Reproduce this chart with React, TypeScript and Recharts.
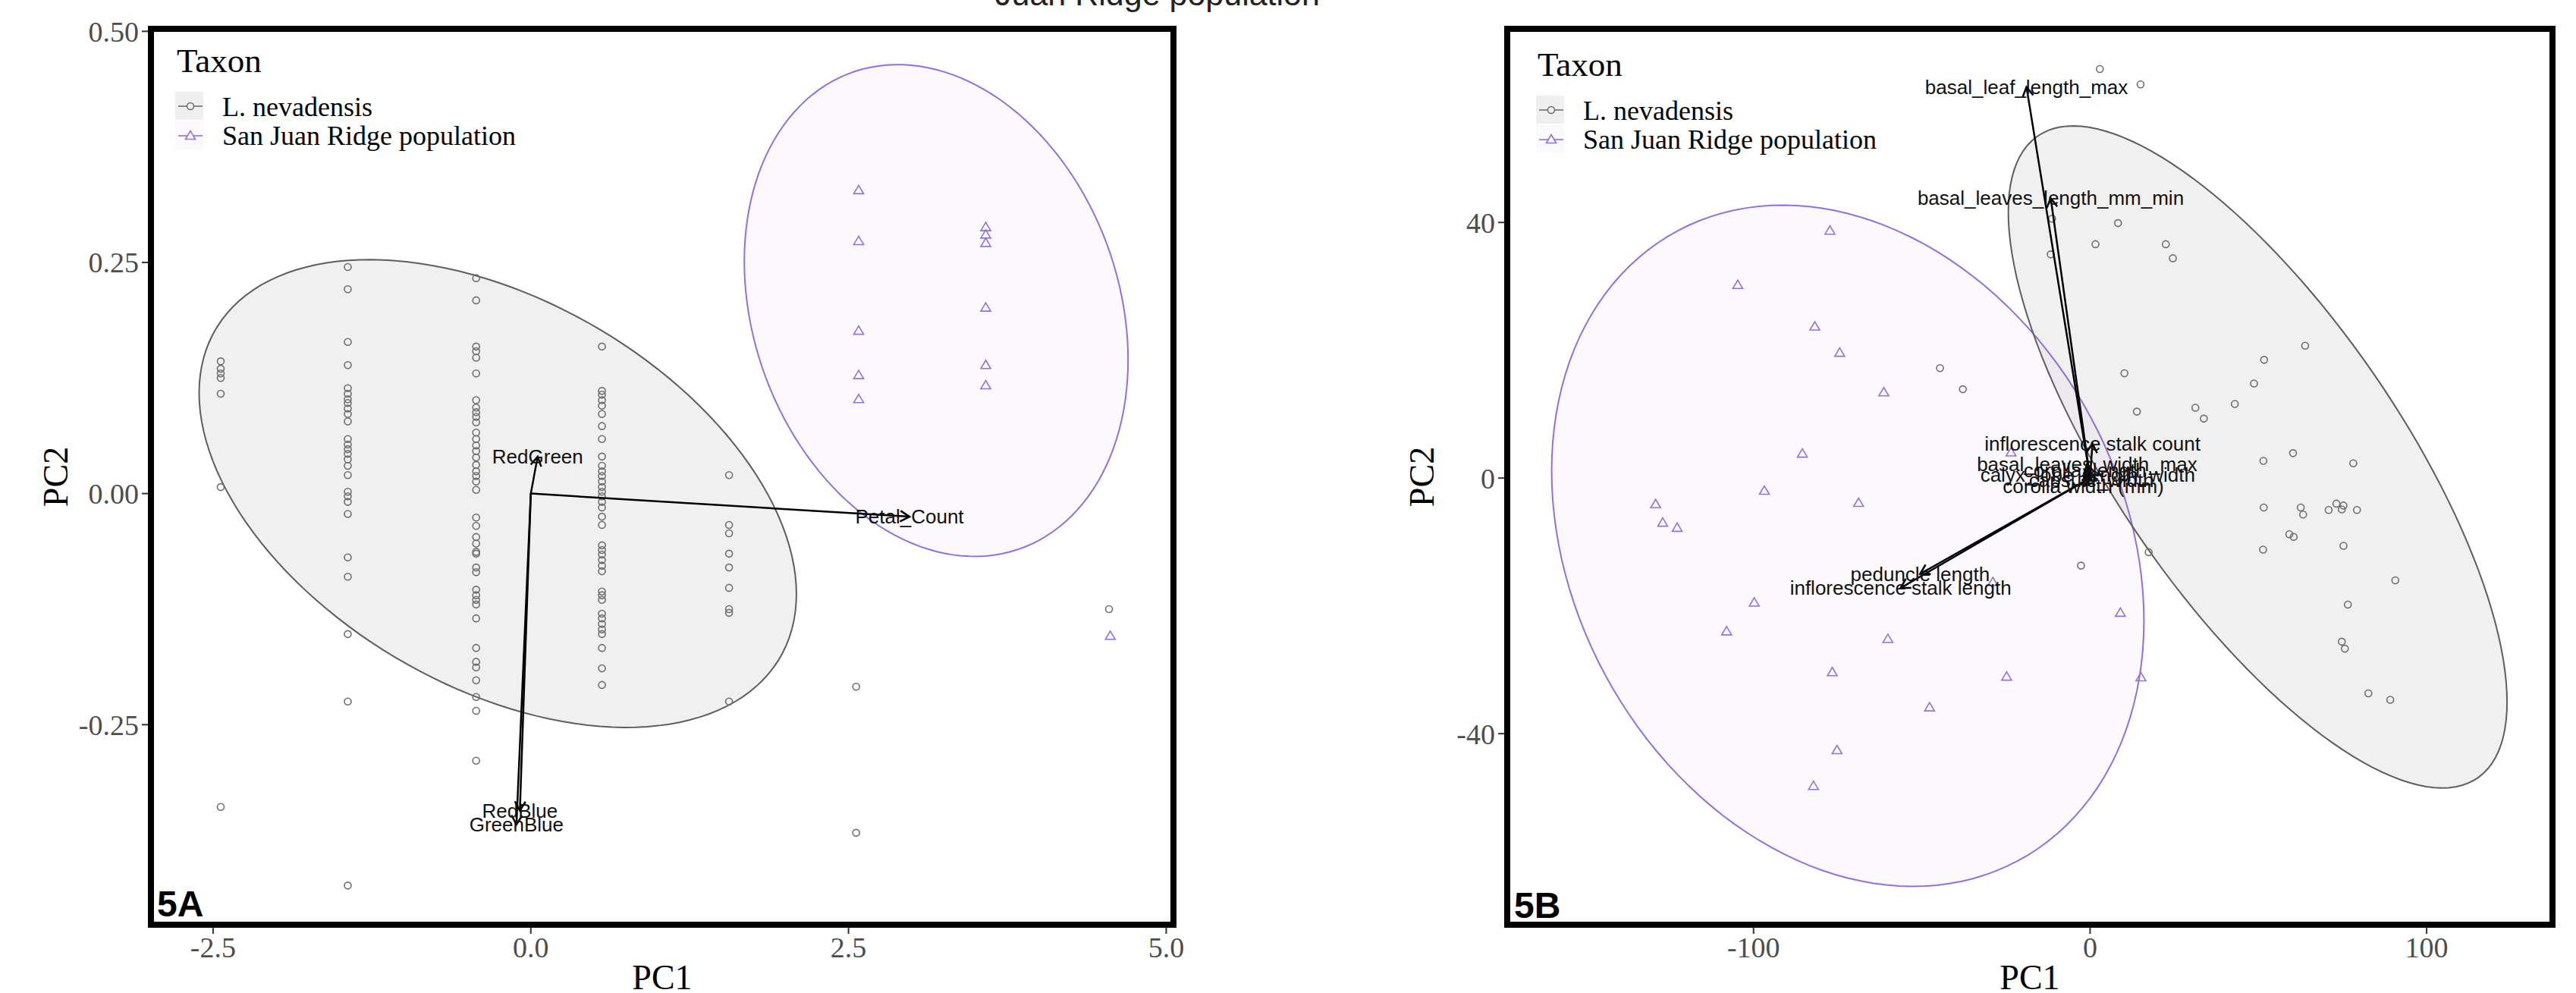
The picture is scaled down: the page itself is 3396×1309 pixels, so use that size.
import React from "react";
import { ScatterChart, Scatter, XAxis, YAxis, Label } from "recharts";

const SERIF = '"Liberation Serif", "Times New Roman", serif';
const SANS = '"Liberation Sans", Arial, sans-serif';
const NEV = "#6e6e6e";
const SJR = "#9370DB";

const taxa = ["L. nevadensis", "San Juan Ridge population"];

// ---- 5A: petal colour / petal count PCA ----
const nevPc1_5A = [-2.44, -1.44, -0.43, 0.56, 1.56, 2.56, 4.55];
const nevPc2_5A = [
  [0.143, 0.135, 0.13, 0.125, 0.108, 0.007, -0.339],
  [0.245, 0.221, 0.164, 0.139, 0.114, 0.108, 0.102, 0.098, 0.092, 0.086, 0.078, 0.059, 0.053, 0.048,
    0.043, 0.037, 0.03, 0.02, 0.002, -0.003, -0.009, -0.022, -0.069, -0.09, -0.152, -0.225, -0.424],
  [0.233, 0.209, 0.159, 0.154, 0.147, 0.13, 0.101, 0.093, 0.088, 0.083, 0.077, 0.066, 0.059, 0.052,
    0.046, 0.039, 0.031, 0.024, 0.019, 0.013, 0.004, -0.026, -0.035, -0.047, -0.054, -0.063, -0.065,
    -0.08, -0.085, -0.104, -0.11, -0.115, -0.12, -0.135, -0.167, -0.182, -0.188, -0.202, -0.22, -0.235, -0.289],
  [0.159, 0.111, 0.107, 0.101, 0.095, 0.086, 0.073, 0.059, 0.04, 0.03, 0.024, 0.019, 0.013, 0.007,
    0.002, -0.003, -0.009, -0.015, -0.025, -0.034, -0.056, -0.061, -0.066, -0.072, -0.078, -0.084,
    -0.106, -0.11, -0.115, -0.13, -0.135, -0.141, -0.147, -0.152, -0.167, -0.189, -0.207],
  [0.02, -0.034, -0.043, -0.065, -0.08, -0.102, -0.125, -0.129, -0.225],
  [-0.209, -0.367],
  [-0.125],
];
const sjrPc1_5A = [2.58, 3.58, 4.56];
const sjrPc2_5A = [
  [0.328, 0.273, 0.176, 0.128, 0.102],
  [0.288, 0.28, 0.271, 0.201, 0.139, 0.117],
  [-0.154],
];
const loadings5A = [
  { name: "RedGreen", x: 0.054, y: 0.04 },
  { name: "Petal_Count", x: 2.98, y: -0.025 },
  { name: "RedBlue", x: -0.086, y: -0.343 },
  { name: "GreenBlue", x: -0.113, y: -0.358 },
];
// 95% ellipses: centre, half extent on each axis, tilt as correlation
const ellipses5A = [
  { cx: -0.26, cy: 0.0, ax: 2.35, ay: 0.253, r: -0.43 },
  { cx: 3.19, cy: 0.198, ax: 1.51, ay: 0.266, r: -0.2 },
];

// ---- 5B: leaf / inflorescence morphometrics PCA ----
const nev5B = [
  [2.9, 64.0], [15.0, 61.6], [-11.3, 40.6], [-11.7, 35.0], [8.3, 39.9], [1.6, 36.6], [22.5, 36.6],
  [24.6, 34.4], [63.9, 20.7], [51.7, 18.5], [48.7, 14.8], [10.2, 16.4], [43.0, 11.6], [31.3, 11.0],
  [33.8, 9.3], [13.9, 10.4], [51.5, 2.7], [60.3, 3.9], [78.2, 2.3], [51.6, -4.6], [62.6, -4.6],
  [63.3, -5.7], [70.9, -5.0], [73.2, -4.0], [75.3, -4.3], [74.8, -4.9], [79.3, -5.0], [59.2, -8.8],
  [60.5, -9.2], [51.4, -11.2], [75.3, -10.6], [90.7, -16.0], [76.6, -19.8], [74.8, -25.6],
  [75.7, -26.7], [82.7, -33.7], [89.2, -34.7], [17.4, -11.6], [-2.7, -13.7], [-44.6, 17.2], [-37.8, 13.9],
];
const sjr5B = [
  [-77.3, 38.7], [-104.7, 30.2], [-81.8, 23.7], [-74.4, 19.6], [-61.3, 13.4], [-85.5, 3.8],
  [-96.8, -2.0], [-68.8, -3.9], [-129.1, -4.1], [-127, -7.0], [-122.7, -7.8], [-99.8, -19.5],
  [-108, -24.0], [-60.1, -25.2], [-76.6, -30.4], [-24.8, -31.1], [-47.7, -35.9], [-75.2, -42.6],
  [-82.2, -48.2], [-28.9, -16.3], [9.0, -21.1], [15.1, -31.2], [-23.5, 4.0],
];
const loadings5B = [
  { name: "basal_leaf_length_max", x: -18.9, y: 61.2 },
  { name: "basal_leaves_length_mm_min", x: -11.7, y: 43.8 },
  { name: "inflorescence stalk count", x: 0.7, y: 5.4 },
  { name: "basal_leaves_width_max", x: -0.9, y: 2.2 },
  { name: "corolla_length", x: -1.5, y: 1.2 },
  { name: "calyx_lobe_length_width", x: -0.7, y: 0.5 },
  { name: "capsule_width", x: 0.4, y: -0.3 },
  { name: "corolla width (mm)", x: -2.0, y: -1.3 },
  { name: "peduncle length", x: -50.5, y: -15.0 },
  { name: "inflorescence stalk length", x: -56.3, y: -17.2 },
];
const ellipses5B = [
  { cx: 49.8, cy: 3.3, ax: 74.1, ay: 51.8, r: -0.74 },
  { cx: -72.0, cy: -10.6, ax: 88.0, ay: 53.3, r: -0.22 },
];

const toPts = (pairs: number[][]) => pairs.map(([x, y]) => ({ x, y }));
const fromColumns = (xs: number[], ys: number[][]) =>
  xs.flatMap((x, i) => ys[i].map((y) => ({ x, y })));

// outline of an ellipse from its centre / extents / correlation
const ellipsePts = (e: any) => {
  const k = Math.sqrt(1 - e.r * e.r);
  const out = [];
  for (let i = 0; i < 144; i++) {
    const t = (i / 144) * 2 * Math.PI;
    out.push({ x: e.cx + e.ax * Math.cos(t), y: e.cy + e.ay * (e.r * Math.cos(t) + k * Math.sin(t)) });
  }
  return out;
};

const Nothing = () => <g />;
const CircleMark = (p: any) => (
  <circle cx={p.cx} cy={p.cy} r={4.5} fill="none" stroke={NEV} strokeWidth={1.6} />
);
const TriMark = (p: any) => (
  <path
    d={`M${p.cx},${p.cy - 6.5}L${p.cx + 6.5},${p.cy + 4.5}L${p.cx - 6.5},${p.cy + 4.5}Z`}
    fill="none"
    stroke={SJR}
    strokeWidth={1.6}
  />
);
const outline = (stroke: string, fill: string, op: number) => (p: any) => {
  const d = p.points.map((q: any, i: number) => `${i ? "L" : "M"}${q.x},${q.y}`).join("") + "Z";
  return <path d={d} stroke={stroke} strokeWidth={2} fill={fill} fillOpacity={op} />;
};
const arrowLine = (p: any) => {
  const [a, b] = p.points;
  const ang = Math.atan2(b.y - a.y, b.x - a.x);
  const L = 14;
  const w = Math.PI / 6;
  const h1 = `${b.x - L * Math.cos(ang - w)},${b.y - L * Math.sin(ang - w)}`;
  const h2 = `${b.x - L * Math.cos(ang + w)},${b.y - L * Math.sin(ang + w)}`;
  return (
    <g stroke="#000" strokeWidth={2.5} fill="none">
      <line x1={a.x} y1={a.y} x2={b.x} y2={b.y} />
      <polyline points={`${h1} ${b.x},${b.y} ${h2}`} />
    </g>
  );
};
const LoadingLabel = (p: any) => (
  <text x={p.cx} y={p.cy} dy="0.35em" textAnchor="middle" fontSize={26} fontFamily={SANS} fill="#111">
    {p.payload.name}
  </text>
);
const VTitle = (props: any) => {
  const { viewBox, bx } = props;
  const cy = viewBox.y + viewBox.height / 2;
  return (
    <text transform={`translate(${bx},${cy}) rotate(-90)`} textAnchor="middle" fontSize={46} fontFamily={SERIF} fill="#000">
      PC2
    </text>
  );
};

const tickStyle = { fill: "#4d4d4d", fontSize: 38, fontFamily: SERIF };

const Panel = ({ cfg }: any) => (
  <div style={{ position: "absolute", left: cfg.left, top: 0 }}>
    <ScatterChart width={cfg.width} height={1309} margin={{ top: 38, right: cfg.marginRight, bottom: 0, left: 0 }}>
      <XAxis
        type="number"
        dataKey="x"
        domain={cfg.xDomain}
        ticks={cfg.xTicks}
        tickFormatter={cfg.xFmt}
        allowDataOverflow
        axisLine={false}
        tickLine={{ stroke: "#333", strokeWidth: 2 }}
        tickSize={12}
        tickMargin={4}
        tick={tickStyle}
        height={90}
      >
        <Label value="PC1" position="insideBottom" offset={5} fontSize={46} fontFamily={SERIF} fill="#000" />
      </XAxis>
      <YAxis
        type="number"
        dataKey="y"
        domain={cfg.yDomain}
        ticks={cfg.yTicks}
        tickFormatter={cfg.yFmt}
        allowDataOverflow
        axisLine={false}
        tickLine={{ stroke: "#333", strokeWidth: 2 }}
        tickSize={12}
        tickMargin={4}
        tick={tickStyle}
        width={cfg.yAxisWidth}
      >
        <Label content={<VTitle bx={cfg.titleX} />} />
      </YAxis>
      <Scatter data={ellipsePts(cfg.ellipses[1])} shape={Nothing} line={outline(SJR, SJR, 0.04)} isAnimationActive={false} />
      <Scatter data={ellipsePts(cfg.ellipses[0])} shape={Nothing} line={outline("#5e5e5e", "#808080", 0.12)} isAnimationActive={false} />
      <Scatter name={taxa[0]} data={cfg.nev} shape={CircleMark} isAnimationActive={false} />
      <Scatter name={taxa[1]} data={cfg.sjr} shape={TriMark} isAnimationActive={false} />
      {cfg.loadings.map((l: any) => (
        <Scatter
          key={l.name}
          data={[{ x: 0, y: 0 }, { x: l.x, y: l.y }]}
          shape={Nothing}
          line={arrowLine}
          isAnimationActive={false}
        />
      ))}
      <Scatter data={cfg.loadings} shape={LoadingLabel} isAnimationActive={false} />
    </ScatterChart>
  </div>
);

const panels = [
  {
    left: 0, width: 1600, marginRight: 53, yAxisWidth: 199, titleX: 89,
    xDomain: [-2.989, 5.057], yDomain: [-0.4664, 0.5027],
    xTicks: [-2.5, 0, 2.5, 5], yTicks: [-0.25, 0, 0.25, 0.5],
    xFmt: (v: number) => v.toFixed(1), yFmt: (v: number) => v.toFixed(2),
    nev: fromColumns(nevPc1_5A, nevPc2_5A), sjr: fromColumns(sjrPc1_5A, sjrPc2_5A),
    loadings: loadings5A, ellipses: ellipses5A,
  },
  {
    left: 1700, width: 1696, marginRight: 31, yAxisWidth: 287, titleX: 190,
    xDomain: [-173.2, 137.4], yDomain: [-69.9, 70.3],
    xTicks: [-100, 0, 100], yTicks: [-40, 0, 40],
    xFmt: (v: number) => String(v), yFmt: (v: number) => String(v),
    nev: toPts(nev5B), sjr: toPts(sjr5B),
    loadings: loadings5B, ellipses: ellipses5B,
  },
];

const LegendBox = ({ x, y }: { x: number; y: number }) => (
  <g>
    <text x={x} y={y} fontSize={45} fontFamily={SERIF} fill="#000">Taxon</text>
    <rect x={x - 2} y={y + 26} width={37} height={37} fill="#efefef" />
    <line x1={x + 2} x2={x + 34} y1={y + 45} y2={y + 45} stroke={NEV} strokeWidth={1.6} />
    <circle cx={x + 18} cy={y + 45} r={4.5} fill="#efefef" stroke={NEV} strokeWidth={1.6} />
    <text x={x + 60} y={y + 58} fontSize={36} fontFamily={SERIF} fill="#000">{taxa[0]}</text>
    <rect x={x - 2} y={y + 65} width={37} height={37} fill="#fbf9fe" />
    <line x1={x + 2} x2={x + 34} y1={y + 84} y2={y + 84} stroke={SJR} strokeWidth={1.6} />
    <path d={`M${x + 18},${y + 77.5}L${x + 24.5},${y + 88.5}L${x + 11.5},${y + 88.5}Z`} fill="#fbf9fe" stroke={SJR} strokeWidth={1.6} />
    <text x={x + 60} y={y + 96} fontSize={36} fontFamily={SERIF} fill="#000">{taxa[1]}</text>
  </g>
);

export default function App() {
  return (
    <div style={{ position: "absolute", left: 0, top: 0, width: 3396, height: 1309, background: "#fff", overflow: "hidden" }}>
      {panels.map((cfg, i) => (
        <Panel key={i} cfg={cfg} />
      ))}
      <svg width={3396} height={1309} style={{ position: "absolute", left: 0, top: 0, pointerEvents: "none" }}>
        <text x={1312} y={7} fontSize={43} fontFamily={SANS} fill="#222">Juan Ridge population</text>
        <rect x={199} y={38} width={1348} height={1181} fill="none" stroke="#000" strokeWidth={8} />
        <rect x={1987} y={38} width={1378} height={1181} fill="none" stroke="#000" strokeWidth={8} />
        <LegendBox x={233} y={95} />
        <LegendBox x={2027} y={100} />
        <text x={207} y={1208} fontSize={48} fontWeight="bold" fontFamily={SANS} fill="#000">5A</text>
        <text x={1996} y={1210} fontSize={48} fontWeight="bold" fontFamily={SANS} fill="#000">5B</text>
      </svg>
    </div>
  );
}
